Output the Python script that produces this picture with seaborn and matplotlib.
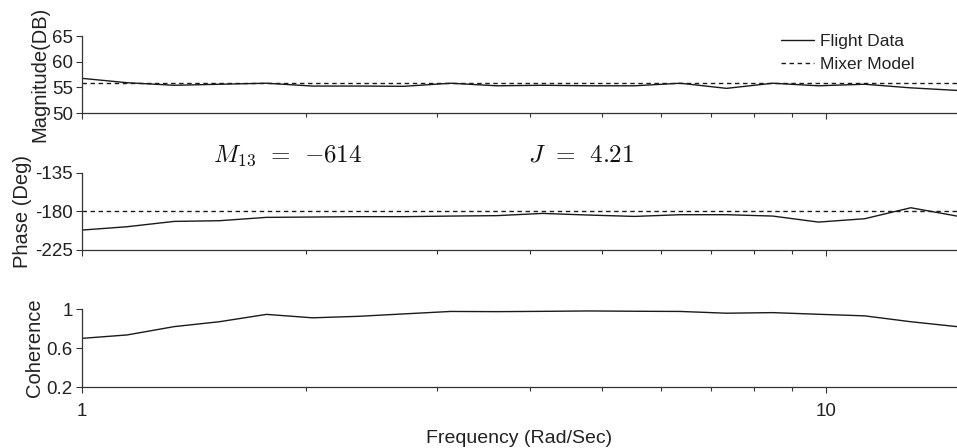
import numpy as np
import pandas as pd
import matplotlib
matplotlib.use("Agg")
import matplotlib.pyplot as plt
import seaborn as sns
from matplotlib.ticker import FixedLocator, NullFormatter

# Frequency points (Rad/Sec)
freq = [1.00, 1.15, 1.33, 1.53, 1.77, 2.04, 2.35, 2.71, 3.13, 3.61,
        4.16, 4.79, 5.53, 6.37, 7.35, 8.48, 9.77, 11.27, 13.00, 15.00]

# Flight data magnitude (DB)
flight_mag = [56.75, 55.9, 55.4, 55.6, 55.8, 55.25, 55.25, 55.2, 55.8, 55.3,
              55.4, 55.3, 55.3, 55.8, 54.8, 55.8, 55.3, 55.6, 54.9, 54.4]

# Flight data phase (Deg)
flight_phase = [-201.8, -197.9, -191.7, -190.9, -187.0, -186.6, -186.2, -186.2, -185.5, -185.0,
                -182.4, -184.3, -185.9, -183.9, -183.9, -185.5, -192.5, -188.6, -175.8, -185.5]

# Coherence
coherence = [0.70, 0.735, 0.82, 0.87, 0.945, 0.91, 0.925, 0.95, 0.975, 0.973,
             0.976, 0.98, 0.977, 0.975, 0.957, 0.963, 0.946, 0.93, 0.87, 0.82]

# Mixer model (constant)
mixer_mag = 55.8
mixer_phase = -180

m13_text = r"$M_{13}\;\,=\;\,{-614}$"
j_text = r"$J\;\,=\;\,4.21$"

sns.set_style("ticks")
plt.rcParams['font.family'] = ['Liberation Sans', 'DejaVu Sans']
plt.rcParams['mathtext.fontset'] = 'cm'
plt.rcParams['axes.unicode_minus'] = False

df = pd.DataFrame({
    'freq': freq,
    'mag': flight_mag,
    'phase': flight_phase,
    'coh': coherence,
    'mixer_mag': [mixer_mag] * len(freq),
    'mixer_phase': [mixer_phase] * len(freq),
})

W, H = 957, 448
fig = plt.figure(figsize=(W / 100, H / 100), dpi=100)


def px_axes(top, bottom, left=82, right=957):
    return fig.add_axes([left / W, 1 - bottom / H, (right - left) / W, (bottom - top) / H])


ax1 = px_axes(36, 113)
ax2 = px_axes(172.7, 250)
ax3 = px_axes(309, 387.3)

line_kw = dict(color='#1a1a1a', linewidth=1.0)
dash_kw = dict(color='#1a1a1a', linewidth=1.0, dashes=(3.2, 2.6))

sns.lineplot(data=df, x='freq', y='mag', ax=ax1, label='Flight Data', **line_kw)
sns.lineplot(data=df, x='freq', y='mixer_mag', ax=ax1, label='Mixer Model', **dash_kw)
sns.lineplot(data=df, x='freq', y='phase', ax=ax2, **line_kw)
sns.lineplot(data=df, x='freq', y='mixer_phase', ax=ax2, **dash_kw)
sns.lineplot(data=df, x='freq', y='coh', ax=ax3, **line_kw)

ax1.set_ylim(50, 65)
ax1.set_yticks([50, 55, 60, 65])
ax2.set_ylim(-225, -135)
ax2.set_yticks([-225, -180, -135])
ax3.set_ylim(0.2, 1.0)
ax3.set_yticks([0.2, 0.6, 1.0])
ax3.set_yticklabels(['0.2', '0.6', '1'])

ax1.set_ylabel('Magnitude(DB)', fontsize=14.5, labelpad=2, color='#222222')
ax2.set_ylabel('Phase (Deg)', fontsize=14.5, labelpad=2, color='#222222')
ax3.set_ylabel('Coherence', fontsize=14.5, labelpad=2, color='#222222')

for ax in (ax1, ax2, ax3):
    ax.set_xscale('log')
    ax.set_xlim(1, 15)
    ax.xaxis.set_major_locator(FixedLocator([1, 10]))
    ax.xaxis.set_minor_locator(FixedLocator([2, 3, 4, 5, 6, 7, 8, 9]))
    ax.xaxis.set_minor_formatter(NullFormatter())
    ax.set_xlabel('')
    for s in ('top', 'right'):
        ax.spines[s].set_visible(False)
    for s in ('left', 'bottom'):
        ax.spines[s].set_color('#333333')
        ax.spines[s].set_linewidth(0.9)
    ax.tick_params(axis='both', which='major', direction='out', length=4,
                   width=0.8, color='#333333', labelsize=13.5, labelcolor='#222222', pad=2.5)
    ax.tick_params(axis='x', which='minor', direction='out', length=3,
                   width=0.8, color='#333333')
    ax.tick_params(axis='x', which='major', pad=7.5)

for ax in (ax1, ax2):
    ax.set_xticklabels([])

ax3.set_xticklabels(['1', '10'])
ax3.set_xlabel('Frequency (Rad/Sec)', fontsize=14, color='#222222', labelpad=7)

leg = ax1.legend(loc='upper right', bbox_to_anchor=(0.959, 1.12), frameon=False,
                 fontsize=12.5, handlelength=1.85, handletextpad=0.35, labelspacing=0.45,
                 borderaxespad=0)
for t in leg.get_texts():
    t.set_color('#222222')

fig.text(288 / W, 1 - 161.7 / H, m13_text, fontsize=18, ha='center', va='baseline', color='#111111')
fig.text(581.5 / W, 1 - 161.7 / H, j_text, fontsize=18, ha='center', va='baseline', color='#111111')

fig.savefig('out.png', dpi=100)
